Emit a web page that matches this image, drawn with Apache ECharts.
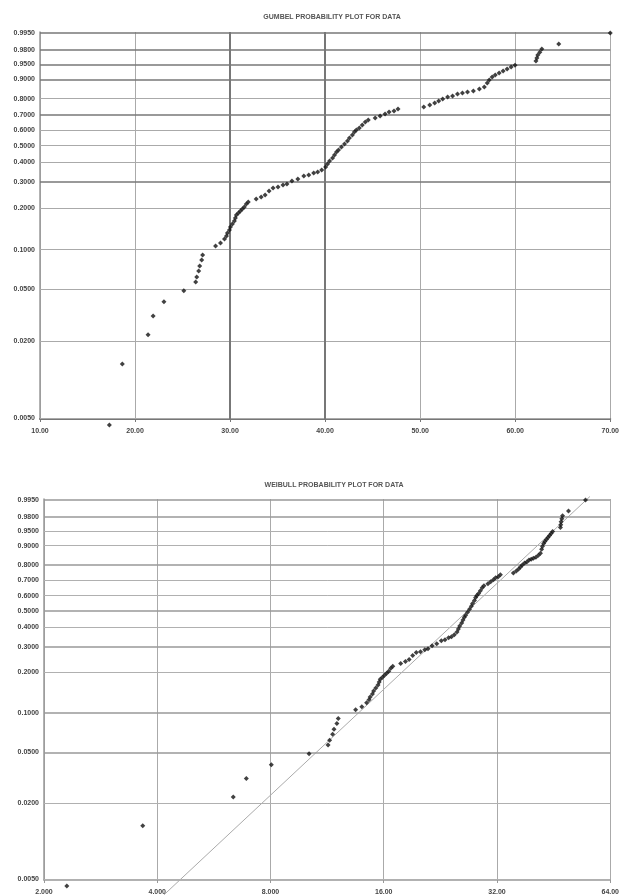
<!DOCTYPE html>
<html>
<head>
<meta charset="utf-8">
<script src="https://cdn.jsdelivr.net/npm/echarts@6/dist/echarts.min.js"></script>
<style>html,body{margin:0;padding:0;background:#fff}#c{width:622px;height:896px}</style>
</head>
<body>
<div id="c"></div>
<script>
const titleTop = 'GUMBEL PROBABILITY PLOT FOR DATA';
const titleBottom = 'WEIBULL PROBABILITY PLOT FOR DATA';
const probTicks = [0.995, 0.98, 0.95, 0.9, 0.8, 0.7, 0.6, 0.5, 0.4, 0.3, 0.2, 0.1, 0.05, 0.02, 0.005];
const probTickLabels = ['0.9950','0.9800','0.9500','0.9000','0.8000','0.7000','0.6000','0.5000','0.4000','0.3000','0.2000','0.1000','0.0500','0.0200','0.0050'];
const darkProbTicks = [0.995, 0.98, 0.95, 0.9, 0.7, 0.3];
const xTickTopMin = 10, xTickTopMax = 70, xTickTopStep = 10;
const xTickBottom = [2, 4, 8, 16, 32, 64];
const darkXTop = [30, 40];
const locationShift = 15;

const dataX = [17.30,18.66,21.37,21.90,23.04,25.13,26.38,26.49,26.70,26.80,27.01,27.11,
  28.47,28.99,
  29.41,29.62,29.72,29.93,30.04,30.24,30.45,30.56,30.66,30.87,31.08,31.29,31.50,31.71,31.91,
  32.75,33.27,33.69,34.10,34.52,35.04,35.57,35.98,36.51,37.13,37.76,38.28,38.80,39.22,39.64,
  40.05,40.26,40.47,40.78,40.99,41.20,41.41,41.72,42.04,42.35,42.56,42.87,43.08,43.29,43.60,43.91,44.23,44.54,
  45.27,45.79,46.31,46.73,47.25,47.67,
  50.38,51.01,51.53,51.95,52.37,52.89,53.41,53.93,54.45,54.98,55.60,56.23,56.75,
  57.06,57.27,57.58,57.90,58.31,58.73,59.15,59.57,59.98,
  62.18,62.28,62.38,62.59,62.80,
  64.58,70.00];
const dataP = [0.0044,0.0132,0.0223,0.0312,0.0401,0.0487,0.0570,0.0622,0.0691,0.0754,0.0836,0.0912,
  0.1064,0.1120,
  0.1199,0.1261,0.1326,0.1396,0.1467,0.1542,0.1621,0.1703,0.1789,0.1848,0.1909,0.1972,0.2037,0.2138,0.2207,
  0.2314,0.2387,0.2466,0.2623,0.2746,0.2788,0.2874,0.2918,0.3055,0.3148,0.3290,0.3338,0.3437,0.3487,0.3592,
  0.3747,0.3908,0.4073,0.4247,0.4420,0.4597,0.4718,0.4905,0.5093,0.5283,0.5475,0.5674,0.5870,0.6002,0.6134,0.6332,0.6535,0.6667,
  0.6798,0.6929,0.7059,0.7188,0.7256,0.7383,
  0.7508,0.7632,0.7754,0.7873,0.7994,0.8109,0.8165,0.8276,0.8330,0.8383,0.8436,0.8539,0.8641,
  0.8829,0.8960,0.9083,0.9162,0.9235,0.9304,0.9368,0.9430,0.9486,
  0.9590,0.9656,0.9715,0.9766,0.9811,
  0.9870,0.9950];
const fitX = [19.17, 71.5];
const fitP = [0.00374, 0.9965];

const tr = p => Math.log(-Math.log(1 - p));
const tPad = 0.02;
const tMin = tr(0.005) - tPad, tMax = tr(0.995) + tPad;

function hLines(darkSet, darkColor, lightColor) {
  return probTicks.map((p, i) => {
    const dark = darkSet.indexOf(p) >= 0;
    return {
      yAxis: tr(p),
      lineStyle: { color: dark ? darkColor : lightColor, width: dark ? 1.6 : 1, type: 'solid' },
      label: { show: true, position: 'start', formatter: probTickLabels[i], fontSize: 7, fontWeight: 'bold', color: '#444', distance: 5 }
    };
  });
}

const topPts = dataX.map((x, i) => [x, tr(dataP[i])]);
const botPts = dataX.map((x, i) => [x - locationShift, tr(dataP[i])]);
const fitPts = fitX.map((x, i) => [x - locationShift, tr(fitP[i])]);

const chart = echarts.init(document.getElementById('c'), null, { renderer: 'canvas' });
const labelStyle = { fontSize: 7, fontWeight: 'bold', color: '#444', margin: 9 };
chart.setOption({
  animation: false,
  title: [
    { text: titleTop, left: 327, top: 9, textAlign: 'center', textStyle: { fontSize: 7, fontWeight: 'bold', color: '#555' } },
    { text: titleBottom, left: 329, top: 477, textAlign: 'center', textStyle: { fontSize: 7, fontWeight: 'bold', color: '#555' } }
  ],
  grid: [
    { left: 40, right: 7, top: 32, height: 387 },
    { left: 44, right: 7, top: 499, height: 382 }
  ],
  xAxis: [
    { type: 'value', gridIndex: 0, min: xTickTopMin, max: xTickTopMax, interval: xTickTopStep,
      axisLine: { onZero: false, lineStyle: { color: '#777', width: 2 } }, axisTick: { show: true, length: 3, lineStyle: { color: '#777' } },
      axisLabel: Object.assign({ formatter: v => v.toFixed(2) }, labelStyle),
      splitLine: { show: true, lineStyle: { color: '#aaa', width: 1 } } },
    { type: 'log', logBase: 2, gridIndex: 1, min: xTickBottom[0], max: xTickBottom[xTickBottom.length - 1],
      axisLine: { onZero: false, lineStyle: { color: '#999', width: 1.5 } }, axisTick: { show: true, length: 3, lineStyle: { color: '#999' } },
      axisLabel: Object.assign({ formatter: v => v >= 10 ? v.toFixed(2) : v.toFixed(3) }, labelStyle),
      splitLine: { show: true, lineStyle: { color: '#aaa', width: 1 } } }
  ],
  yAxis: [
    { type: 'value', gridIndex: 0, min: tMin, max: tMax, axisLabel: { show: false }, axisTick: { show: false },
      splitLine: { show: false }, axisLine: { show: true, onZero: false, lineStyle: { color: '#999', width: 1.5 } } },
    { type: 'value', gridIndex: 1, min: tMin, max: tMax, axisLabel: { show: false }, axisTick: { show: false },
      splitLine: { show: false }, axisLine: { show: true, onZero: false, lineStyle: { color: '#999', width: 1.5 } } }
  ],
  series: [
    { type: 'scatter', xAxisIndex: 0, yAxisIndex: 0, data: topPts, symbol: 'diamond', symbolSize: 5,
      itemStyle: { color: '#111' }, clip: false, z: 5,
      markLine: { silent: true, symbol: 'none', animation: false,
        data: hLines(darkProbTicks, '#777', '#aaa').concat(darkXTop.map(x => ({ xAxis: x, lineStyle: { color: '#777', width: 2, type: 'solid' }, label: { show: false } }))) } },
    { type: 'scatter', xAxisIndex: 1, yAxisIndex: 1, data: botPts, symbol: 'diamond', symbolSize: 5,
      itemStyle: { color: '#111' }, clip: false, z: 5,
      markLine: { silent: true, symbol: 'none', animation: false, data: hLines([0.995, 0.98, 0.8, 0.5, 0.3, 0.1, 0.05], '#999', '#b0b0b0') } },
    { type: 'line', xAxisIndex: 1, yAxisIndex: 1, data: fitPts, symbol: 'none', clip: false, z: 3,
      lineStyle: { color: '#aaa', width: 1 } }
  ]
});
</script>
</body>
</html>
